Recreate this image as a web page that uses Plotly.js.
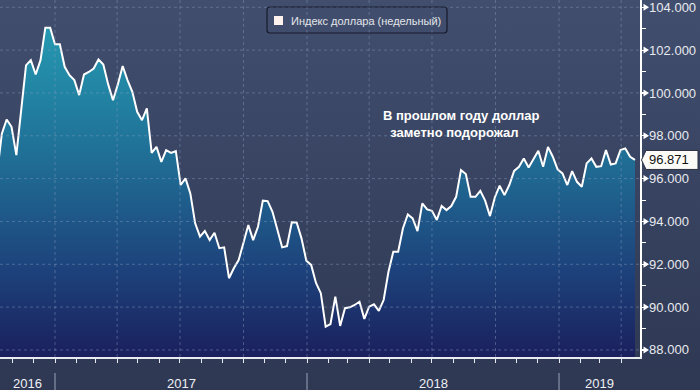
<!DOCTYPE html>
<html>
<head>
<meta charset="utf-8">
<script src="https://cdn.plot.ly/plotly-3.0.1.min.js"></script>
<style>
html,body{margin:0;padding:0;background:#2e3853;}
#chart{width:700px;height:390px;background:linear-gradient(to bottom,#414e6e 0%,#2e3853 100%);}
</style>
</head>
<body>
<div id="chart"></div>
<script>
// ---- data (weekly US dollar index) ----
const seriesName = 'Индекс доллара (недельный)';
const noteText = ['В прошлом году доллар', '\u00a0\u00a0заметно подорожал'];
const firstWeek = '2016-10-09';          // weekly points, one per week
const dxy2016 = [96.2, 98.1, 98.76, 98.42, 97.1, 99.3, 101.29, 101.53, 100.86, 101.53, 103.05, 103.05];
const dxy2017 = [102.27, 102.27, 101.22, 100.83, 100.6, 99.9, 100.86, 100.98, 101.14, 101.56,
                 101.33, 100.4, 99.66, 100.4, 101.26, 100.6, 100.05, 99.12, 98.73, 99.28,
                 97.2, 97.48, 96.78, 97.33, 97.2, 97.28, 95.7, 96.01, 95.31, 93.91,
                 93.29, 93.55, 93.13, 93.47, 92.75, 92.79, 91.35, 91.81, 92.2, 93.0,
                 93.83, 93.13, 93.75, 94.97, 94.95, 94.45, 93.68, 92.79, 92.85, 93.96,
                 93.95, 93.21, 92.17];
const dxy2018 = [91.97, 91.13, 90.65, 89.09, 89.21, 90.49, 89.12,
                 89.95, 89.99, 90.1, 90.25, 89.45, 90.02, 90.13, 89.82, 90.33, 91.65,
                 92.59, 92.59, 93.68, 94.33, 94.14, 93.55, 94.84, 94.56, 94.5, 94.07,
                 94.72, 94.53, 94.72, 95.15, 96.4, 96.21, 95.15, 95.15, 95.43, 94.97,
                 94.25, 95.12, 95.67, 95.23, 95.7, 96.36, 96.55, 96.94, 96.52, 96.94,
                 97.3, 96.55, 97.48, 97.02, 96.43];
const dxy2019 = [96.24, 95.7, 96.35, 95.85, 95.62, 96.71, 96.94, 96.55, 96.58, 97.33,
                 96.66, 96.71, 97.33, 97.41, 97.02, 96.871];
const yTicks = [88, 90, 92, 94, 96, 98, 100, 102, 104];
const years = ['2016', '2017', '2018', '2019'];
const yearStarts = ['2017-01-01', '2018-01-01', '2019-01-01'];
const quarterLines = ['2017-01-01','2017-04-01','2017-07-01','2017-10-01','2018-01-01','2018-04-01',
                      '2018-07-01','2018-10-01','2019-01-01','2019-04-01'];

// ---- build ----
const values = [].concat(dxy2016, dxy2017, dxy2018, dxy2019);
const DAY = 86400000;
const t0 = Date.parse(firstWeek + 'T00:00:00Z');
const dates = values.map((v, i) => new Date(t0 + i * 7 * DAY).toISOString().slice(0, 10));
const lastValue = values[values.length - 1];

const xRange = ['2016-10-13 08:00', '2019-04-28 07:00'];
const yRange = [87.67, 104.34];
const FONT = 'Liberation Sans, Arial, sans-serif';
const gridColor = 'rgba(135,155,190,0.45)';

const traces = [{
  type: 'scatter', mode: 'lines', x: dates, y: values, name: seriesName,
  line: {color: '#ffffff', width: 2},
  fill: 'tozeroy',
  fillgradient: {type: 'vertical', start: yRange[0], stop: yRange[1],
    colorscale: [[0, '#1a205d'], [0.25, '#1d437c'], [0.5, '#1f6791'], [0.75, '#2285a4'], [1, '#27a2b7']]},
  hoverinfo: 'skip', showlegend: false
}];

const shapes = [];
yTicks.forEach(t => {
  shapes.push({type: 'line', xref: 'paper', yref: 'y', x0: 0, x1: 1, y0: t, y1: t,
    line: {color: gridColor, width: 1, dash: '3px,3px'}, layer: 'above'});
  shapes.push({type: 'path', xref: 'paper', xsizemode: 'pixel', xanchor: 1,
    yref: 'y', ysizemode: 'pixel', yanchor: t, path: 'M3.5,-3.5 L3.5,3.5 L9,0 Z',
    fillcolor: '#ffffff', line: {width: 0}, layer: 'above'});
});
quarterLines.forEach(d => {
  shapes.push({type: 'line', xref: 'x', yref: 'paper', x0: d, x1: d, y0: 0, y1: 1,
    line: {color: gridColor, width: 1, dash: '3px,3px'}, layer: 'above'});
});
yearStarts.forEach(d => {
  shapes.push({type: 'line', xref: 'x', yref: 'paper', x0: d, x1: d, y0: -0.0448, y1: -0.0924,
    line: {color: '#9aa3b6', width: 1}});
});
// last value tag
shapes.push({type: 'path', xref: 'paper', xsizemode: 'pixel', xanchor: 1,
  yref: 'y', ysizemode: 'pixel', yanchor: lastValue,
  path: 'M1.5,0 L6,9.5 L58,9.5 L58,-9.5 L6,-9.5 Z',
  fillcolor: '#fdfbf8', line: {color: '#2a2f3f', width: 1}, layer: 'above'});
// legend box & swatch
shapes.push({type: 'path', xref: 'paper', xsizemode: 'pixel', xanchor: 0,
  yref: 'paper', ysizemode: 'pixel', yanchor: 1,
  path: 'M270,-7 L444,-7 Q447,-7 447,-10 L447,-30 Q447,-33 444,-33 L270,-33 Q267,-33 267,-30 L267,-10 Q267,-7 270,-7 Z',
  fillcolor: 'rgba(0,0,0,0)', line: {color: '#161b2b', width: 1.2}, layer: 'above'});
shapes.push({type: 'rect', xref: 'paper', xsizemode: 'pixel', xanchor: 0,
  yref: 'paper', ysizemode: 'pixel', yanchor: 1,
  x0: 274, x1: 283, y0: -16, y1: -25, fillcolor: '#fdf2ee', line: {width: 0}, layer: 'above'});

const annotations = [];
// year labels centred in the visible part of each year
const bounds = [Date.parse(xRange[0].replace(' ', 'T') + 'Z')]
  .concat(yearStarts.map(d => Date.parse(d + 'T00:00:00Z')))
  .concat([Date.parse(xRange[1].replace(' ', 'T') + 'Z')]);
years.forEach((y, i) => {
  const mid = new Date((bounds[i] + bounds[i + 1]) / 2).toISOString().replace('T', ' ').slice(0, 19);
  annotations.push({xref: 'x', yref: 'paper', x: mid, y: -0.073, text: y, showarrow: false,
    xanchor: 'center', yanchor: 'middle', font: {family: FONT, size: 13, color: '#eef0f4'}});
});
annotations.push({xref: 'paper', yref: 'y', x: 1, xshift: 29, y: lastValue,
  text: lastValue.toFixed(3), showarrow: false, xanchor: 'center', yanchor: 'middle',
  font: {family: FONT, size: 13, color: '#111111'}});
annotations.push({xref: 'paper', yref: 'paper', x: 289 / 640, y: 1 - 21 / 357, text: seriesName,
  showarrow: false, xanchor: 'left', yanchor: 'middle',
  font: {family: FONT, size: 11, color: '#e4e6ea'}});
annotations.push({xref: 'paper', yref: 'paper', x: 381 / 640, y: 1 - 124 / 357,
  text: '<b>' + noteText.join('<br>') + '</b>', showarrow: false, align: 'left',
  xanchor: 'left', yanchor: 'middle',
  font: {family: FONT, size: 13, color: '#ffffff'}});

const layout = {
  width: 700, height: 390,
  margin: {l: 0, r: 60, t: 0, b: 33, pad: 0},
  paper_bgcolor: 'rgba(0,0,0,0)', plot_bgcolor: 'rgba(0,0,0,0)',
  showlegend: false, hovermode: false,
  font: {family: FONT, color: '#e8e8e8'},
  xaxis: {type: 'date', range: xRange, showgrid: false, zeroline: false,
    showline: true, linecolor: '#e8ebf0', linewidth: 1.5,
    ticks: 'outside', ticklen: 4, tickwidth: 1, tickcolor: '#e8ebf0',
    tick0: '2017-01-01', dtick: 'M3', showticklabels: false,
    minor: {dtick: 'M1', tick0: '2017-01-01', ticks: 'outside', ticklen: 4, tickwidth: 1, tickcolor: '#e8ebf0', showgrid: false}},
  yaxis: {side: 'right', range: yRange, showgrid: false, zeroline: false,
    showline: true, linecolor: '#ffffff', linewidth: 1.5,
    tickvals: yTicks, tickformat: '.3f', ticks: 'outside', ticklen: 5, tickwidth: 1.2, tickcolor: '#ffffff',
    ticklabelstandoff: 0, ticklabeloverflow: 'allow',
    tickfont: {family: FONT, size: 13, color: '#e8eaee'},
    minor: {dtick: 1, tick0: 87, ticks: 'outside', ticklen: 4, tickwidth: 1, tickcolor: '#ffffff', showgrid: false}},
  shapes: shapes,
  annotations: annotations
};

Plotly.newPlot('chart', traces, layout, {staticPlot: true, displayModeBar: false});
</script>
</body>
</html>
